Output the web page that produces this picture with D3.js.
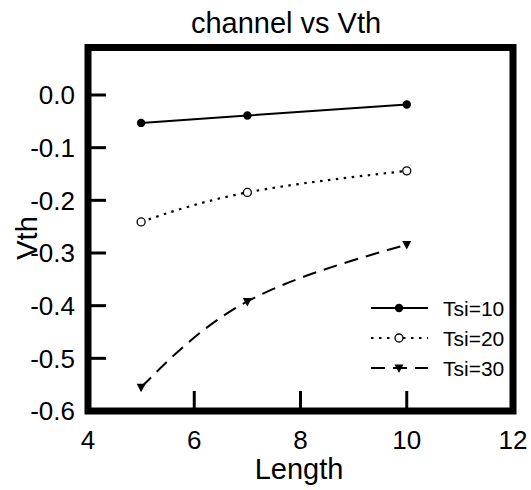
<!DOCTYPE html>
<html>
<head>
<meta charset="utf-8">
<script src="https://cdn.jsdelivr.net/npm/d3@7"></script>
<style>
    html, body { margin: 0; padding: 0; background: #fff; }
    text { font-family: "Liberation Sans", Arial, sans-serif; fill: #000; }
</style>
</head>
<body>
<div id="chart"></div>
<script>
// Chart data
const lengths = [5, 7, 10];
const vthTsi10 = [-0.053, -0.039, -0.018];
const vthTsi20 = [-0.241, -0.185, -0.144];
const vthTsi30 = [-0.555, -0.392, -0.284];
const seriesNames = ['Tsi=10', 'Tsi=20', 'Tsi=30'];
const xTicks = [4, 6, 8, 10, 12];
const yTicks = [0.0, -0.1, -0.2, -0.3, -0.4, -0.5, -0.6];

/**
 * Draws the channel vs Vth line chart
 * @param {string} containerId - The ID of the container element
 */
function createVthChart(containerId) {
    const width = 531;
    const height = 490;

    const svg = d3.select('#' + containerId)
        .append('svg')
        .attr('width', width)
        .attr('height', height);

    // Plot frame
    const left = 88, right = 513, top = 47.5, bottom = 411;

    const x = d3.scaleLinear().domain([4, 12]).range([left, right]);
    const y = d3.scaleLinear().domain([-0.6, 0.0]).range([bottom, 95]);

    const series = [
        { name: seriesNames[0], values: vthTsi10, dash: null, marker: 'dot' },
        { name: seriesNames[1], values: vthTsi20, dash: '2.5,5.5', marker: 'ring' },
        { name: seriesNames[2], values: vthTsi30, dash: '14,8', marker: 'tri' }
    ];

    // Title
    svg.append('text')
        .attr('x', 286)
        .attr('y', 33)
        .attr('text-anchor', 'middle')
        .attr('font-size', '29px')
        .text('channel vs Vth');

    // Lines
    const line = d3.line()
        .x(d => x(d[0]))
        .y(d => y(d[1]))
        .curve(d3.curveNatural);

    series.forEach(s => {
        const pts = lengths.map((l, i) => [l, s.values[i]]);
        svg.append('path')
            .datum(pts)
            .attr('fill', 'none')
            .attr('stroke', '#000')
            .attr('stroke-width', s.marker === 'ring' ? 2.2 : 2)
            .attr('stroke-dasharray', s.dash)
            .attr('d', line);

        pts.forEach(p => drawMarker(svg, s.marker, x(p[0]), y(p[1])));
    });

    // Ticks (inside)
    svg.append('g')
        .selectAll('line')
        .data(yTicks.filter(t => t > -0.6))
        .enter()
        .append('line')
        .attr('x1', left)
        .attr('x2', left + 18)
        .attr('y1', d => y(d))
        .attr('y2', d => y(d))
        .attr('stroke', '#000')
        .attr('stroke-width', 3);

    svg.append('g')
        .selectAll('line')
        .data(xTicks.filter(t => t > 4 && t < 12))
        .enter()
        .append('line')
        .attr('x1', d => x(d))
        .attr('x2', d => x(d))
        .attr('y1', bottom)
        .attr('y2', bottom - 20)
        .attr('stroke', '#000')
        .attr('stroke-width', 3);

    // Frame
    svg.append('rect')
        .attr('x', left)
        .attr('y', top)
        .attr('width', right - left)
        .attr('height', bottom - top)
        .attr('fill', 'none')
        .attr('stroke', '#000')
        .attr('stroke-width', 7);

    // Tick labels
    svg.append('g')
        .selectAll('text')
        .data(yTicks)
        .enter()
        .append('text')
        .attr('x', 75)
        .attr('y', d => y(d))
        .attr('dy', '0.36em')
        .attr('text-anchor', 'end')
        .attr('font-size', '26px')
        .text(d => d3.format('.1f')(d).replace('−', '-'));

    svg.append('g')
        .selectAll('text')
        .data(xTicks)
        .enter()
        .append('text')
        .attr('x', d => x(d))
        .attr('y', 449)
        .attr('text-anchor', 'middle')
        .attr('font-size', '26px')
        .text(d => d);

    // Axis titles
    svg.append('text')
        .attr('x', 299)
        .attr('y', 479)
        .attr('text-anchor', 'middle')
        .attr('font-size', '29px')
        .text('Length');

    svg.append('text')
        .attr('transform', 'translate(37,238) rotate(-90)')
        .attr('text-anchor', 'middle')
        .attr('font-size', '29px')
        .text('Vth');

    // Legend
    const legend = svg.append('g')
        .selectAll('.legend-item')
        .data(series)
        .enter()
        .append('g')
        .attr('class', 'legend-item')
        .attr('transform', (d, i) => `translate(0,${308 + i * 30})`);

    legend.append('line')
        .attr('x1', 371)
        .attr('x2', 428)
        .attr('stroke', '#000')
        .attr('stroke-width', 2)
        .attr('stroke-dasharray', d => d.dash);

    legend.each(function(d) {
        drawMarker(d3.select(this), d.marker, 399, 0);
    });

    legend.append('text')
        .attr('x', 443)
        .attr('dy', '0.36em')
        .attr('font-size', '21px')
        .text(d => d.name);
}

/**
 * Draws a single symbol
 */
function drawMarker(g, type, cx, cy) {
    if (type === 'dot') {
        g.append('circle')
            .attr('cx', cx).attr('cy', cy).attr('r', 4.2)
            .attr('fill', '#000');
    } else if (type === 'ring') {
        g.append('circle')
            .attr('cx', cx).attr('cy', cy).attr('r', 4)
            .attr('fill', '#fff')
            .attr('stroke', '#000')
            .attr('stroke-width', 1.3);
    } else {
        g.append('path')
            .attr('d', `M${cx - 4.5},${cy - 3.5}L${cx + 4.5},${cy - 3.5}L${cx},${cy + 5}Z`)
            .attr('fill', '#000');
    }
}

createVthChart('chart');
</script>
</body>
</html>
